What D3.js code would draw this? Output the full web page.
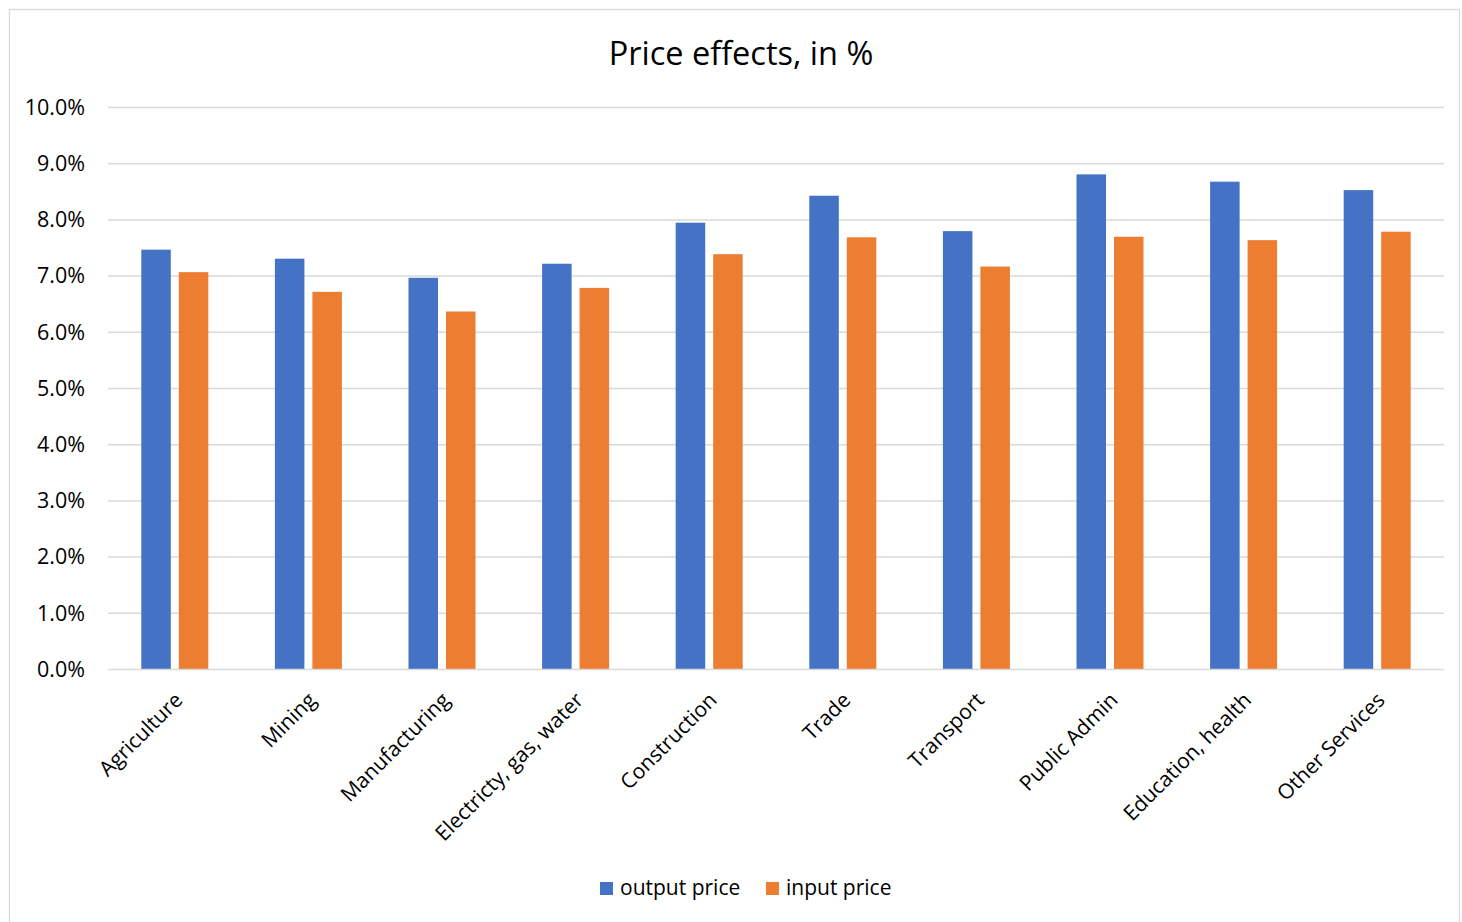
<!DOCTYPE html>
<html>
<head>
<meta charset="utf-8">
<script src="https://cdn.jsdelivr.net/npm/d3@7"></script>
<style>
  html, body { margin: 0; padding: 0; background: #fff; }
  svg { display: block; font-family: "Open Sans", "Noto Sans", sans-serif; }
</style>
</head>
<body>
<svg id="chart" width="1462" height="922"></svg>
<script>
// Sectors on the x axis
const categories = ["Agriculture", "Mining", "Manufacturing", "Electricty, gas, water",
  "Construction", "Trade", "Transport", "Public Admin", "Education, health", "Other Services"];
// Series names
const seriesNames = ["output price", "input price"];
// Price effects in percent
const outputPrice = [7.47, 7.31, 6.97, 7.22, 7.95, 8.43, 7.80, 8.81, 8.68, 8.53];
const inputPrice  = [7.07, 6.72, 6.37, 6.79, 7.39, 7.69, 7.17, 7.70, 7.64, 7.79];
// Y axis ticks
const yTicks = [0, 1, 2, 3, 4, 5, 6, 7, 8, 9, 10];
const colors = ["#4472C4", "#ED7D31"];

const FONT = "'Open Sans', 'Noto Sans', sans-serif";
const svg = d3.select("#chart");
const W = 1462, H = 922;
const m = { left: 108, right: 18, top: 107.5, bottom: 252.5 };

// outer chart frame
svg.append("rect")
  .attr("x", 9.5).attr("y", 9.5)
  .attr("width", W - 12).attr("height", H)
  .attr("fill", "#fff").attr("stroke", "#d9d9d9").attr("stroke-width", 1.3);

svg.append("text")
  .attr("x", 741).attr("y", 65)
  .attr("text-anchor", "middle")
  .attr("font-size", 32.5)
  .attr("fill", "#000")
  .text("Price effects, in %");

const x0 = d3.scaleBand().domain(categories).range([m.left, W - m.right]).padding(0);
const x1 = d3.scaleBand().domain(seriesNames).range([0, x0.bandwidth()])
  .paddingInner(0.213).paddingOuter(0.888);
const y = d3.scaleLinear().domain([0, 10]).range([H - m.bottom, m.top]);

// gridlines
svg.append("g").selectAll("line").data(yTicks.filter(d => d > 0)).join("line")
  .attr("x1", m.left).attr("x2", W - m.right)
  .attr("y1", d => y(d)).attr("y2", d => y(d))
  .attr("stroke", "#d9d9d9").attr("stroke-width", 1.5);

// y axis labels
const yAxis = d3.axisLeft(y).tickValues(yTicks).tickSize(0).tickPadding(23)
  .tickFormat(d => d.toFixed(1) + "%");
const gy = svg.append("g").attr("transform", `translate(${m.left},0)`).call(yAxis);
gy.select(".domain").remove();
gy.selectAll("text").attr("font-size", 21.5).attr("fill", "#000").attr("font-family", FONT);

// bars
const rows = categories.map((c, i) => ({ c, vals: [outputPrice[i], inputPrice[i]] }));
const groups = svg.append("g").selectAll("g").data(rows).join("g")
  .attr("transform", d => `translate(${x0(d.c)},0)`);
groups.selectAll("rect")
  .data(d => d.vals.map((v, j) => ({ s: seriesNames[j], v, j })))
  .join("rect")
  .attr("x", d => x1(d.s))
  .attr("width", x1.bandwidth())
  .attr("y", d => y(d.v))
  .attr("height", d => y(0) - y(d.v))
  .attr("fill", d => colors[d.j]);

// baseline
svg.append("line")
  .attr("x1", m.left).attr("x2", W - m.right)
  .attr("y1", y(0)).attr("y2", y(0))
  .attr("stroke", "#d9d9d9").attr("stroke-width", 1.5);

// x axis labels, rotated
const xAxis = d3.axisBottom(x0).tickSize(0).tickPadding(0);
const gx = svg.append("g").attr("transform", `translate(0,${y(0)})`).call(xAxis);
gx.select(".domain").remove();
gx.selectAll("text")
  .attr("font-size", 21).attr("fill", "#000").attr("font-family", FONT)
  .attr("text-anchor", "end")
  .attr("dy", 0)
  .attr("transform", "translate(9,32) rotate(-45)");

// legend
const legend = svg.append("g").attr("transform", "translate(600,882)");
const li = legend.selectAll("g").data(seriesNames).join("g")
  .attr("transform", (d, i) => `translate(${i * 166},0)`);
li.append("rect").attr("width", 13).attr("height", 13).attr("fill", (d, i) => colors[i]);
li.append("text").attr("x", 20).attr("y", 13)
  .attr("font-size", 21).attr("fill", "#000").attr("font-family", FONT).text(d => d);
</script>
</body>
</html>
